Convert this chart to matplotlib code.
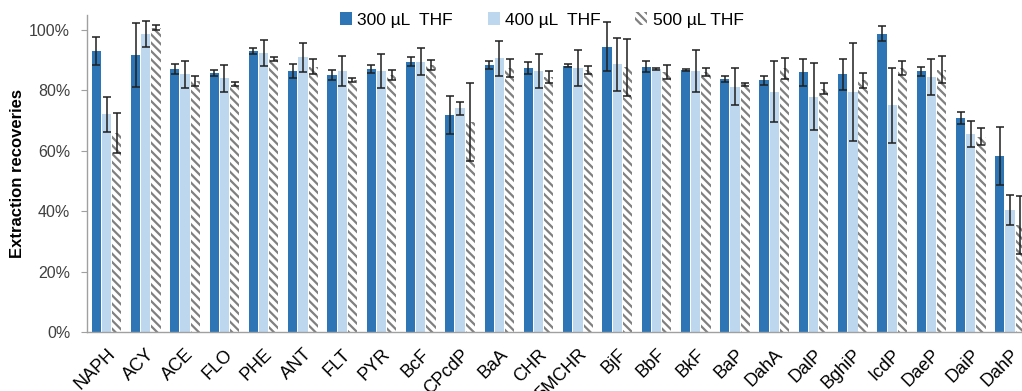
import numpy as np
import matplotlib
matplotlib.use("Agg")
import matplotlib.pyplot as plt
from matplotlib.ticker import PercentFormatter

# compounds on the x axis
categories = ['NAPH', 'ACY', 'ACE', 'FLO', 'PHE', 'ANT', 'FLT', 'PYR', 'BcF', 'CPcdP',
              'BaA', 'CHR', '5MCHR', 'BjF', 'BbF', 'BkF', 'BaP', 'DahA', 'DalP', 'BghiP',
              'IcdP', 'DaeP', 'DaiP', 'DahP']

# recoveries (%)
rec_300 = [93.1, 91.7, 87.0, 85.9, 93.1, 86.3, 85.0, 87.0, 89.5, 71.8,
           88.4, 87.3, 88.2, 94.5, 87.9, 86.8, 83.9, 83.3, 86.0, 85.3,
           98.8, 86.3, 70.9, 58.2]
err_300 = [4.6, 10.6, 1.6, 1.0, 0.9, 2.3, 1.6, 1.3, 1.4, 6.2,
           1.3, 2.0, 0.4, 8.0, 1.7, 0.4, 1.0, 1.4, 4.4, 5.2,
           2.5, 1.6, 2.0, 9.7]

rec_400 = [72.1, 98.7, 85.3, 84.0, 92.3, 91.0, 86.5, 86.4, 89.5, 74.1,
           90.6, 86.4, 87.3, 88.6, 87.0, 86.4, 81.2, 79.6, 77.9, 79.4,
           75.1, 84.4, 65.6, 40.4]
err_400 = [5.8, 4.3, 4.5, 4.5, 4.3, 4.8, 4.9, 5.7, 4.5, 2.1,
           5.9, 5.7, 6.0, 8.8, 0.3, 7.0, 6.2, 10.0, 11.0, 16.2,
           12.4, 6.1, 4.4, 5.0]

rec_500 = [65.8, 100.8, 83.0, 82.1, 90.4, 87.9, 83.4, 85.1, 88.4, 69.6,
           87.3, 84.5, 86.8, 87.6, 86.2, 86.2, 82.0, 87.3, 80.5, 83.4,
           87.3, 86.8, 64.7, 35.4]
err_500 = [6.6, 0.7, 1.6, 0.7, 0.8, 2.5, 0.6, 1.7, 1.6, 13.0,
           3.0, 1.9, 1.3, 9.5, 2.3, 1.3, 0.6, 3.4, 1.8, 2.5,
           2.3, 4.5, 2.7, 9.5]

plt.rcParams['font.family'] = ['Liberation Sans', 'DejaVu Sans']
plt.rcParams['hatch.linewidth'] = 1.6

dark = '#2E75B6'
light = '#BDD7EE'
grey = '#808080'
txt = '#404040'

fig = plt.figure(figsize=(10.22, 3.91), dpi=100)
ax = fig.add_axes([0.085, 0.151, 0.9225, 0.811])

x = np.arange(len(categories))
w = 0.235
step = 0.26
ekw = dict(ecolor='#1f1f1f', elinewidth=1.1, capsize=3, capthick=1.1)

ax.bar(x - step, rec_300, w, color=dark, yerr=err_300, error_kw=ekw, label='300 µL  THF')
ax.bar(x, rec_400, w, color=light, yerr=err_400, error_kw=ekw, label='400 µL  THF')
ax.bar(x + step, rec_500, w, facecolor='white', edgecolor=grey, linewidth=0,
       hatch='\\\\\\\\', yerr=err_500, error_kw=ekw, label='500 µL THF')

ax.set_xlim(-0.5, len(categories) - 0.5)
ax.set_ylim(0, 105)
ax.set_yticks([0, 20, 40, 60, 80, 100])
ax.yaxis.set_major_formatter(PercentFormatter(decimals=0))
ax.tick_params(axis='y', length=4, color='#a0a0a0', labelsize=11.5, labelcolor=txt, pad=8)
ax.tick_params(axis='x', length=0, labelsize=13, pad=10)
ax.set_xticks(x)
ax.set_xticklabels(categories, rotation=45, ha='right', rotation_mode='anchor')

for s in ['top', 'right']:
    ax.spines[s].set_visible(False)
for s in ['left', 'bottom']:
    ax.spines[s].set_color('#a0a0a0')
    ax.spines[s].set_linewidth(1.0)

ax.set_ylabel('Extraction recoveries', fontsize=12, fontweight='bold')
ax.yaxis.set_label_coords(-0.066, 0.5)

fig.legend(loc='center', bbox_to_anchor=(0.53, 0.949), ncol=3, frameon=False,
           fontsize=12.5, handlelength=0.7, handleheight=0.7, handletextpad=0.3,
           columnspacing=2.0)

fig.savefig('out.png', dpi=100)
